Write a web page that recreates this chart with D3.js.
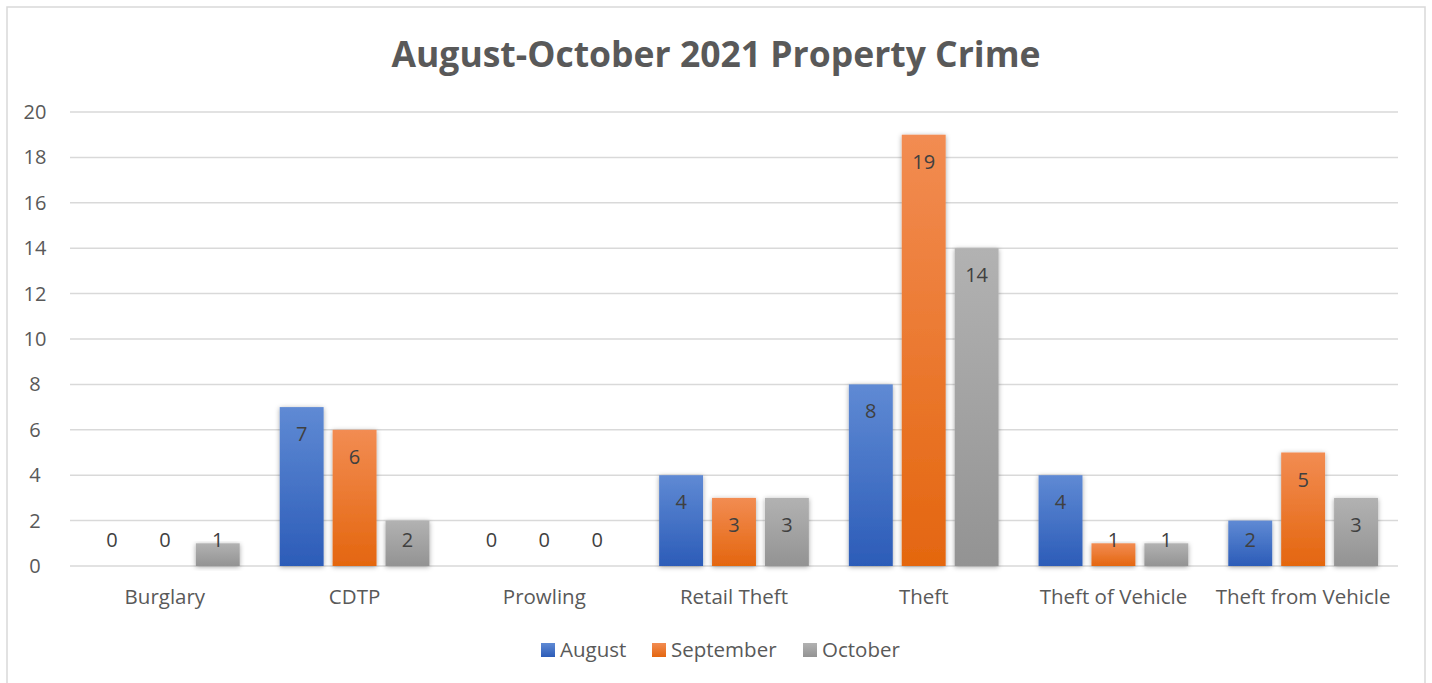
<!DOCTYPE html>
<html>
<head>
<meta charset="utf-8">
<script src="https://cdn.jsdelivr.net/npm/d3@7"></script>
<style>
  body { margin: 0; background: #fff; }
  svg text { font-family: "Open Sans", "Liberation Sans", sans-serif; }
</style>
</head>
<body>
<svg id="chart"></svg>
<script>
// chart data
const categories = ["Burglary", "CDTP", "Prowling", "Retail Theft", "Theft", "Theft of Vehicle", "Theft from Vehicle"];
const seriesNames = ["August", "September", "October"];
const august = [0, 7, 0, 4, 8, 4, 2];
const september = [0, 6, 0, 3, 19, 1, 5];
const october = [1, 2, 0, 3, 14, 1, 3];
const yTicks = [0, 2, 4, 6, 8, 10, 12, 14, 16, 18, 20];

const seriesValues = [august, september, october];
const colors = [
    { top: "#5f8ad4", bottom: "#2c5cb8" },
    { top: "#f28c52", bottom: "#e4660f" },
    { top: "#b2b2b2", bottom: "#939393" }
];

const W = 1432, H = 683;
const margin = { top: 112, right: 34, bottom: 117, left: 70 };
const width = W - margin.left - margin.right;
const height = H - margin.top - margin.bottom;

const svg = d3.select("#chart").attr("width", W).attr("height", H);

// gradients + shadow
const defs = svg.append("defs");
colors.forEach((c, i) => {
    const g = defs.append("linearGradient").attr("id", "grad" + i)
        .attr("x1", 0).attr("y1", 0).attr("x2", 0).attr("y2", 1);
    g.append("stop").attr("offset", "0%").attr("stop-color", c.top);
    g.append("stop").attr("offset", "100%").attr("stop-color", c.bottom);
});
const f = defs.append("filter").attr("id", "shadow")
    .attr("x", "-30%").attr("y", "-10%").attr("width", "160%").attr("height", "130%");
f.append("feDropShadow").attr("dx", 0).attr("dy", 1).attr("stdDeviation", 2.5)
    .attr("flood-color", "#000").attr("flood-opacity", 0.35);

// outer border
svg.append("rect")
    .attr("x", 7).attr("y", 7).attr("width", 1418).attr("height", 690)
    .attr("fill", "#fff").attr("stroke", "#d9d9d9").attr("stroke-width", 1.5);

// title
svg.append("text")
    .attr("x", 716).attr("y", 67)
    .attr("text-anchor", "middle")
    .attr("font-size", 35.5).attr("font-weight", "bold")
    .attr("fill", "#595959")
    .text("August-October 2021 Property Crime");

const g = svg.append("g").attr("transform", `translate(${margin.left},${margin.top})`);

const x = d3.scaleBand().domain(categories).range([0, width]).paddingInner(0).paddingOuter(0);
const xs = d3.scaleBand().domain(seriesNames).range([20, x.bandwidth() - 20]).paddingInner(0.17);
const y = d3.scaleLinear().domain([0, 20]).range([height, 0]);

// gridlines
g.append("g")
    .selectAll("line")
    .data(yTicks)
    .join("line")
    .attr("x1", 0).attr("x2", width)
    .attr("y1", d => y(d)).attr("y2", d => y(d))
    .attr("stroke", "#d9d9d9").attr("stroke-width", 1.5);

// y axis labels
const yAxis = g.append("g")
    .call(d3.axisLeft(y).tickValues(yTicks).tickSize(0).tickPadding(35));
yAxis.select(".domain").remove();
yAxis.selectAll("text")
    .attr("font-size", 20).attr("fill", "#595959")
    .style("font-family", "'Open Sans', sans-serif")
    .attr("text-anchor", "middle");

// x axis labels
const xAxis = g.append("g")
    .attr("transform", `translate(0,${height})`)
    .call(d3.axisBottom(x).tickSize(0).tickPadding(23));
xAxis.select(".domain").remove();
xAxis.selectAll("text")
    .attr("font-size", 20.5).attr("fill", "#595959")
    .style("font-family", "'Open Sans', sans-serif");

// bars
const groups = g.selectAll(".cat")
    .data(categories)
    .join("g")
    .attr("class", "cat")
    .attr("transform", d => `translate(${x(d)},0)`);

seriesNames.forEach((s, si) => {
    groups.append("rect")
        .filter((d, ci) => seriesValues[si][ci] > 0)
        .attr("x", xs(s))
        .attr("width", xs.bandwidth())
        .attr("y", d => y(seriesValues[si][categories.indexOf(d)]))
        .attr("height", d => height - y(seriesValues[si][categories.indexOf(d)]))
        .attr("fill", `url(#grad${si})`)
        .attr("filter", "url(#shadow)");

    groups.append("text")
        .attr("x", xs(s) + xs.bandwidth() / 2)
        .attr("y", d => {
            const v = seriesValues[si][categories.indexOf(d)];
            return Math.min(y(v) + 27, height - 26) + 7;
        })
        .attr("text-anchor", "middle")
        .attr("font-size", 20).attr("fill", "#404040")
        .text(d => seriesValues[si][categories.indexOf(d)]);
});

// legend
const legendX = [541, 652, 803];
const legend = svg.append("g");
seriesNames.forEach((s, i) => {
    legend.append("rect")
        .attr("x", legendX[i]).attr("y", 643)
        .attr("width", 14).attr("height", 14)
        .attr("fill", `url(#grad${i})`);
    legend.append("text")
        .attr("x", legendX[i] + 19).attr("y", 657)
        .attr("font-size", 20.5).attr("fill", "#595959")
        .text(s);
});
</script>
</body>
</html>
